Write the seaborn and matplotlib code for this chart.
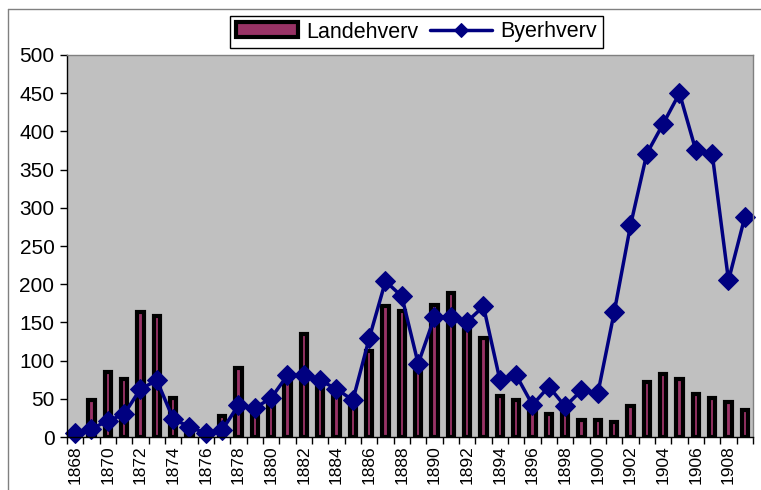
import matplotlib
matplotlib.use("Agg")
import matplotlib.pyplot as plt
from matplotlib.lines import Line2D
from matplotlib.ticker import MultipleLocator
import numpy as np
import seaborn as sns

years = list(range(1868, 1910))
landehverv = [5, 48, 85, 76, 163, 159, 51, 10, 3, 27, 90, 35,
              45, 79, 135, 66, 57, 40, 112, 171, 165, 95, 173, 189,
              140, 129, 54, 48, 40, 30, 35, 22, 22, 20, 40, 72,
              82, 76, 56, 51, 46, 35]
byerhverv = [5, 11, 21, 30, 63, 74, 24, 13, 5, 9, 42, 38,
             51, 81, 81, 74, 63, 48, 129, 204, 184, 96, 157, 157,
             151, 171, 75, 81, 42, 66, 40, 61, 57, 163, 277, 371,
             410, 450, 375, 371, 205, 288]
even_years = years[::2]

sns.set_theme(style="white")
plt.rcParams["font.family"] = ["Liberation Sans", "DejaVu Sans"]
plt.rcParams["text.color"] = "black"
plt.rcParams["xtick.color"] = "black"
plt.rcParams["ytick.color"] = "black"

fig = plt.figure(figsize=(7.61, 4.90), dpi=100)
ax = fig.add_axes([67 / 761, 53 / 490, 686 / 761, 382 / 490])
ax.set_facecolor("#C0C0C0")

sns.barplot(x=years, y=landehverv, native_scale=True, width=0.4,
            color="#993366", edgecolor="black", linewidth=3,
            saturation=1, ax=ax, label="Landehverv")
sns.lineplot(x=years, y=byerhverv, color="#000080", linewidth=2.5,
             marker="D", markersize=10.5, markeredgecolor="#000080",
             ax=ax, label="Byerhverv", clip_on=False)

ax.set_xlim(1867.5, 1909.5)
ax.set_ylim(0, 500)
ax.yaxis.set_major_locator(MultipleLocator(50))
ax.set_xticks(even_years)
ax.set_xticklabels([str(y) for y in even_years], rotation=90, fontsize=12.5)
ax.set_xticks(np.arange(1867.5, 1910, 1), minor=True)
ax.tick_params(axis="x", which="major", length=0, pad=6)
ax.tick_params(axis="x", which="minor", length=5, width=1, color="black",
               bottom=True)
ax.tick_params(axis="y", which="major", length=5, width=1, color="black",
               left=True, labelsize=15, pad=4)
ax.set_xlabel("")
ax.set_ylabel("")
ax.grid(False)

for side in ["left", "bottom"]:
    ax.spines[side].set_color("black")
    ax.spines[side].set_linewidth(1)
for side in ["top", "right"]:
    ax.spines[side].set_color("#808080")
    ax.spines[side].set_linewidth(1)

handles, labels = ax.get_legend_handles_labels()
order = [labels.index("Landehverv"), labels.index("Byerhverv")]
leg = ax.legend([handles[i] for i in order], [labels[i] for i in order],
                loc="center", bbox_to_anchor=(416.5 / 761, 1 - 32 / 490),
                bbox_transform=fig.transFigure, ncol=2, frameon=True,
                fancybox=False, edgecolor="black", facecolor="white",
                framealpha=1, fontsize=15.5, borderpad=0.25, handlelength=2.9,
                columnspacing=0.5, handletextpad=0.4)
for h in leg.legend_handles:
    if isinstance(h, Line2D):
        h.set_markersize(7)

# Excel chart area border
fig.add_artist(Line2D([8 / 761, 8 / 761], [0, 1 - 9 / 490], color="#808080",
                      linewidth=1, transform=fig.transFigure))
fig.add_artist(Line2D([8 / 761, 1], [1 - 9 / 490, 1 - 9 / 490], color="#808080",
                      linewidth=1, transform=fig.transFigure))

fig.savefig("out.png", dpi=100)
